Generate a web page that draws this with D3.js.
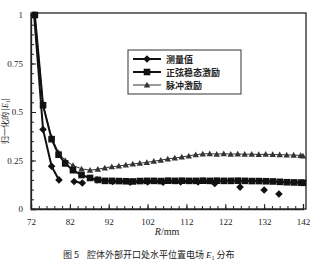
<!DOCTYPE html>
<html>
<head>
<meta charset="utf-8">
<script src="https://cdn.jsdelivr.net/npm/d3@7"></script>
<style>
  body { margin: 0; background: #fff; }
  svg text { fill: #222; white-space: pre; }
</style>
</head>
<body>
<svg id="chart" width="320" height="269"></svg>
<script>
// data
var simX = [73, 75.1, 77.3, 79.1, 80.8, 82.8, 85, 87.2, 89.2, 91, 92.8, 94.6, 96.4, 98.2, 100,
    101.8, 103.6, 105.4, 107.2, 109, 110.8, 112.6, 114.4, 116.2, 118, 119.8, 121.6, 123.4,
    125.2, 127, 128.8, 130.6, 132.4, 134.2, 136, 137.8, 139.6, 141.4, 142];
var pulse = [1.0, 0.54, 0.37, 0.29, 0.25, 0.225, 0.207, 0.2, 0.205, 0.212, 0.218, 0.222, 0.227,
    0.232, 0.236, 0.24, 0.246, 0.252, 0.258, 0.263, 0.268, 0.274, 0.28, 0.284, 0.285, 0.283,
    0.285, 0.283, 0.284, 0.282, 0.283, 0.281, 0.282, 0.281, 0.28, 0.279, 0.278, 0.276, 0.273];
var sine = [1.0, 0.535, 0.36, 0.28, 0.235, 0.2, 0.175, 0.16, 0.15, 0.145, 0.145, 0.144, 0.143,
    0.142, 0.144, 0.145, 0.145, 0.144, 0.146, 0.145, 0.146, 0.145, 0.145, 0.146, 0.145, 0.146,
    0.145, 0.145, 0.146, 0.145, 0.144, 0.144, 0.143, 0.142, 0.14, 0.138, 0.137, 0.136, 0.135];
var measX = [72.8, 75.1, 77.3, 79.2, null, 83.1, 85.2, null, 89, 93, 97.5, 102, 106, 110.5, 115,
    119.3, null, 125.8, null, 132, null, 135.8];
var meas = [1.0, 0.41, 0.22, 0.15, null, 0.142, 0.134, null, 0.15, 0.142, 0.138, 0.14, 0.138,
    0.14, 0.14, 0.132, null, 0.113, null, 0.098, null, 0.077];

var xTicks = [72, 82, 92, 102, 112, 122, 132, 142];
var yTicks = [0, 0.25, 0.5, 0.75, 1];
var yTickLabels = ['0', '0.25', '0.5', '0.75', '1'];
var legendNames = ['测量值', '正弦稳态激励', '脉冲激励'];

var svg = d3.select('#chart');
var x = d3.scaleLinear().domain([72, 142]).range([31, 303]);
var y = d3.scaleLinear().domain([0, 1]).range([209, 15]);

// frame
svg.append('rect')
    .attr('x', 31).attr('y', 13)
    .attr('width', 275).attr('height', 196)
    .attr('fill', 'none')
    .attr('stroke', '#222')
    .attr('stroke-width', 1.3);

// minor ticks
svg.append('g')
    .attr('transform', 'translate(31,0)')
    .call(d3.axisLeft(y).tickValues(d3.range(0, 1.001, 0.05)).tickSize(-3).tickFormat(''))
    .call(function(g) { g.select('.domain').remove(); });
svg.append('g')
    .attr('transform', 'translate(0,209)')
    .call(d3.axisBottom(x).tickValues(d3.range(72, 143, 2)).tickSize(-3).tickFormat(''))
    .call(function(g) { g.select('.domain').remove(); });

// major ticks + labels
svg.append('g')
    .attr('transform', 'translate(31,0)')
    .call(d3.axisLeft(y).tickValues(yTicks).tickSize(-5).tickPadding(8)
        .tickFormat(function(d, i) { return yTickLabels[i]; }));
svg.append('g')
    .attr('transform', 'translate(0,209)')
    .call(d3.axisBottom(x).tickValues(xTicks).tickSize(-5).tickPadding(10));

svg.selectAll('.tick line').attr('stroke', '#222').attr('stroke-width', 1);
svg.selectAll('.domain').attr('stroke', '#222').attr('stroke-width', 1.3);
svg.selectAll('.tick text')
    .attr('font-family', 'Liberation Serif, serif')
    .attr('font-size', 9)
    .attr('fill', '#222');

// axis titles
var yt = svg.append('text')
    .attr('transform', 'translate(8,121) rotate(-90)')
    .attr('text-anchor', 'middle')
    .attr('font-family', 'Noto Sans CJK SC')
    .attr('font-size', 8);
yt.append('tspan').text('归一化的 |');
yt.append('tspan').attr('font-family', 'Liberation Serif').attr('font-style', 'italic').text('E');
yt.append('tspan').attr('font-family', 'Liberation Serif').attr('font-size', 6).attr('dy', 2).text('1');
yt.append('tspan').attr('dy', -2).text('|');

var xt = svg.append('text')
    .attr('x', 167).attr('y', 235)
    .attr('text-anchor', 'middle')
    .attr('font-family', 'Liberation Serif, serif')
    .attr('font-size', 10);
xt.append('tspan').attr('font-style', 'italic').text('R');
xt.append('tspan').text('/mm');

// caption
var cap = svg.append('text')
    .attr('x', 63).attr('y', 258)
    .attr('font-family', 'Noto Sans CJK SC')
    .attr('font-size', 9);
cap.append('tspan').text('图 5    腔体外部开口处水平位置电场 ');
cap.append('tspan').attr('font-family', 'Liberation Serif').attr('font-style', 'italic').text('E');
cap.append('tspan').attr('font-family', 'Liberation Serif').attr('font-size', 6).attr('dy', 2).text('1');
cap.append('tspan').attr('dy', -2).text(' 分布');

// series
var line = d3.line()
    .defined(function(d) { return d[0] !== null && d[1] !== null; })
    .x(function(d) { return x(d[0]); })
    .y(function(d) { return y(d[1]); });

var measPts = d3.zip(measX, meas);
var sinePts = d3.zip(simX, sine);
var pulsePts = d3.zip(simX, pulse);

function markerPath(type, s) {
    if (type === 'diamond') return 'M0,' + (-s) + 'L' + s + ',0L0,' + s + 'L' + (-s) + ',0Z';
    if (type === 'square') return 'M' + (-s) + ',' + (-s) + 'h' + (2 * s) + 'v' + (2 * s) + 'h' + (-2 * s) + 'Z';
    return 'M0,' + (-s) + 'L' + s + ',' + (s * 0.8) + 'L' + (-s) + ',' + (s * 0.8) + 'Z';
}

var series = [
    { name: legendNames[2], pts: pulsePts, type: 'triangle', w: 1, size: 3.2, color: '#333' },
    { name: legendNames[1], pts: sinePts, type: 'square', w: 2, size: 3.3, color: '#111' },
    { name: legendNames[0], pts: measPts, type: 'diamond', w: 2, size: 3.8, color: '#111' }
];

series.forEach(function(s) {
    svg.append('path')
        .datum(s.pts)
        .attr('d', line)
        .attr('fill', 'none')
        .attr('stroke', s.color)
        .attr('stroke-width', s.w);
    svg.append('g')
        .selectAll('path')
        .data(s.pts.filter(function(d) { return d[0] !== null; }))
        .join('path')
        .attr('transform', function(d) { return 'translate(' + x(d[0]) + ',' + y(d[1]) + ')'; })
        .attr('d', markerPath(s.type, s.size))
        .attr('fill', s.color);
});

// legend
var leg = svg.append('g');
leg.append('rect')
    .attr('x', 128).attr('y', 50)
    .attr('width', 113).attr('height', 44)
    .attr('fill', '#fff')
    .attr('stroke', '#333')
    .attr('stroke-width', 1);

var legItems = [series[2], series[1], series[0]];
legItems.forEach(function(s, i) {
    var cy = 59 + i * 13;
    leg.append('line')
        .attr('x1', 133).attr('x2', 161)
        .attr('y1', cy).attr('y2', cy)
        .attr('stroke', s.color)
        .attr('stroke-width', s.w);
    leg.append('path')
        .attr('transform', 'translate(147,' + cy + ')')
        .attr('d', markerPath(s.type, s.size))
        .attr('fill', s.color);
    leg.append('text')
        .attr('x', 166).attr('y', cy + 3.5)
        .attr('font-family', 'Noto Sans CJK SC')
        .attr('font-weight', 'bold')
        .attr('font-size', 9)
        .text(s.name);
});
</script>
</body>
</html>
